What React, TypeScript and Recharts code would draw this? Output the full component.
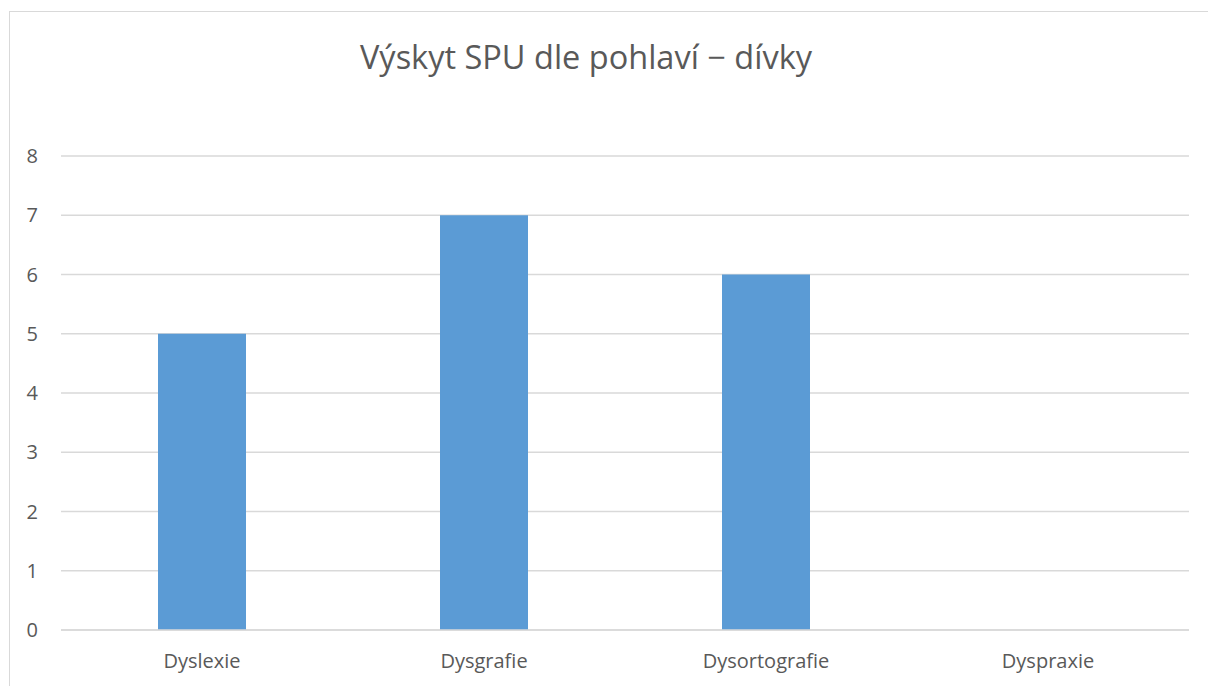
import React from 'react';
import { BarChart, Bar, XAxis, YAxis, CartesianGrid } from 'recharts';

const categories = ['Dyslexie', 'Dysgrafie', 'Dysortografie', 'Dyspraxie'];
const girls = [5, 7, 6, 0];
const yTicks = [0, 1, 2, 3, 4, 5, 6, 7, 8];

const data = categories.map((name, i) => ({ name, value: girls[i] }));

const font = '"Open Sans", "Liberation Sans", sans-serif';

const App: React.FC = () => {
  return (
    <div
      style={{
        position: 'fixed',
        left: 0,
        top: 0,
        width: 1208,
        height: 686,
        overflow: 'hidden',
        background: '#fff',
        fontFamily: font,
      }}
    >
      {/* chart frame, runs off the right and bottom edge */}
      <div
        style={{
          position: 'absolute',
          left: 9,
          top: 11,
          width: 1230,
          height: 700,
          border: '1px solid #d9d9d9',
          boxSizing: 'border-box',
        }}
      />
      <div
        style={{
          position: 'absolute',
          left: 286,
          width: 600,
          top: 35,
          textAlign: 'center',
          fontSize: 32.5,
          color: '#595959',
          lineHeight: '44px',
          whiteSpace: 'nowrap',
        }}
      >
        Výskyt SPU dle pohlaví − dívky
      </div>
      <div style={{ position: 'absolute', left: 8, top: 8 }}>
        <BarChart
          width={1200}
          height={678}
          data={data}
          margin={{ top: 148, right: 19, bottom: 0, left: 0 }}
          barSize={88}
        >
          <CartesianGrid vertical={false} stroke="#d9d9d9" strokeWidth={1.5} />
          <XAxis
            dataKey="name"
            height={56}
            tickLine={false}
            tickSize={0}
            tickMargin={24}
            axisLine={{ stroke: '#d9d9d9', strokeWidth: 1.5 }}
            tick={{ fill: '#595959', fontSize: 20, fontFamily: font }}
          />
          <YAxis
            width={53}
            domain={[0, 8]}
            ticks={yTicks}
            interval={0}
            tickLine={false}
            tickSize={0}
            tickMargin={23}
            axisLine={false}
            tick={{ fill: '#595959', fontSize: 20, fontFamily: font }}
          />
          <Bar dataKey="value" fill="#5b9bd5" isAnimationActive={false} />
        </BarChart>
      </div>
    </div>
  );
};

export default App;
